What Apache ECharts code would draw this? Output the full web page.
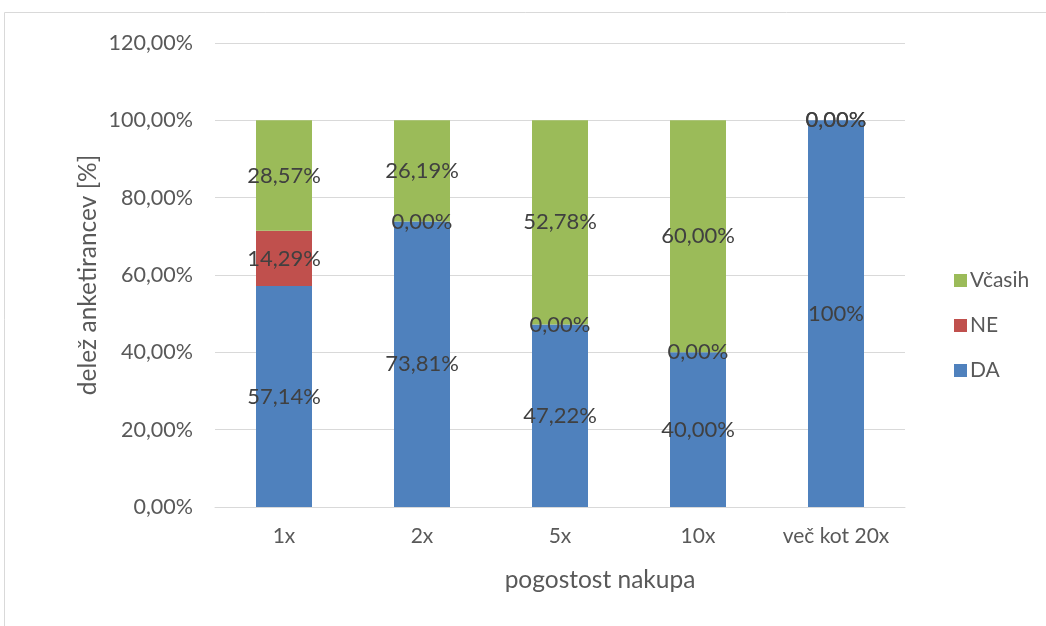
<!DOCTYPE html>
<html>
<head>
<meta charset="utf-8">
<script src="https://cdn.jsdelivr.net/npm/echarts@6/dist/echarts.min.js"></script>
<style>
html,body{margin:0;padding:0;background:#fff;}
#chart{width:1046px;height:626px;}
</style>
</head>
<body>
<div id="chart"></div>
<script>
// Purchase frequency categories and answer shares (%)
const categories = ['1x', '2x', '5x', '10x', 'več kot 20x'];
const daValues = [57.14, 73.81, 47.22, 40.00, 100];
const neValues = [14.29, 0, 0, 0, 0];
const casihValues = [28.57, 26.19, 52.78, 60.00, 0];
const seriesNames = ['DA', 'NE', 'Včasih'];
const yTicks = [0, 20, 40, 60, 80, 100, 120];

const FONT = 'Lato, "Noto Sans", sans-serif';

function pct(v, digits) {
  return v.toFixed(digits).replace('.', ',') + '%';
}
// a full 100 share is written without decimals, every other share with two
function labelText(v) {
  return v === 100 ? '100%' : pct(v, 2);
}

const colors = ['#4F81BD', '#C0504D', '#9BBB59'];
const dataSets = [daValues, neValues, casihValues];

const chart = echarts.init(document.getElementById('chart'), null, {renderer: 'canvas'});

chart.setOption({
  animation: false,
  backgroundColor: '#fff',
  textStyle: {fontFamily: FONT},
  grid: {left: 215, right: 141, top: 43, bottom: 119, containLabel: false},
  legend: {
    orient: 'vertical',
    left: 949,
    top: 265,
    itemWidth: 13,
    itemHeight: 13,
    itemGap: 24,
    icon: 'rect',
    data: ['Včasih', 'NE', 'DA'],
    textStyle: {fontFamily: FONT, fontSize: 21, color: '#595959', padding: [0, 0, 0, -2]}
  },
  xAxis: {
    type: 'category',
    data: categories,
    axisLine: {lineStyle: {color: '#d9d9d9', width: 1}},
    axisTick: {show: false},
    axisLabel: {color: '#595959', fontSize: 21, fontFamily: FONT, margin: 19, interval: 0, hideOverlap: false}
  },
  yAxis: {
    type: 'value',
    min: yTicks[0],
    max: yTicks[yTicks.length - 1],
    interval: 20,
    axisLine: {show: false},
    axisTick: {show: false},
    splitLine: {lineStyle: {color: '#d9d9d9', width: 1}},
    axisLabel: {
      color: '#595959', fontSize: 21.5, fontFamily: FONT, margin: 22,
      formatter: v => pct(v, 2)
    }
  },
  series: seriesNames.map((name, i) => ({
    name: name,
    type: 'bar',
    stack: 'total',
    barWidth: 56,
    itemStyle: {color: colors[i]},
    data: dataSets[i],
    label: {
      show: true,
      position: 'inside',
      color: '#404040',
      fontSize: 22,
      fontFamily: FONT,
      formatter: p => labelText(p.value)
    }
  })),
  graphic: [
    {
      type: 'rect',
      silent: true,
      shape: {x: 4.5, y: 12.5, width: 1200, height: 800},
      style: {fill: 'none', stroke: '#d9d9d9', lineWidth: 1}
    },
    {
      type: 'text',
      x: 88, y: 275,
      rotation: Math.PI / 2,
      style: {
        text: 'delež anketirancev [%]',
        fill: '#595959', font: '24.5px ' + FONT,
        textAlign: 'center', textVerticalAlign: 'middle'
      }
    },
    {
      type: 'text',
      x: 600, y: 580,
      style: {
        text: 'pogostost nakupa',
        fill: '#595959', font: '24.5px ' + FONT,
        textAlign: 'center', textVerticalAlign: 'middle'
      }
    }
  ]
});
</script>
</body>
</html>
